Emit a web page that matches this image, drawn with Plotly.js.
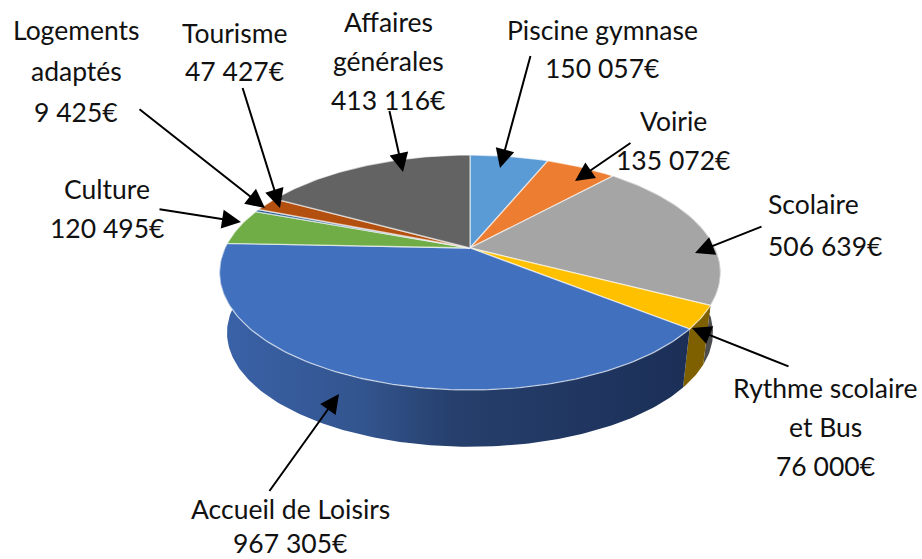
<!DOCTYPE html>
<html>
<head>
<meta charset="utf-8">
<script src="https://cdn.plot.ly/plotly-3.0.1.min.js"></script>
<style>html,body{margin:0;padding:0;background:#fff}#chart{width:922px;height:559px}</style>
</head>
<body>
<div id="chart"></div>
<script>
// ---- data ----
const categories = ["Piscine gymnase","Voirie","Scolaire","Rythme scolaire et Bus","Accueil de Loisirs","Culture","Logements adaptés","Tourisme","Affaires générales"];
const values = [150057,135072,506639,76000,967305,120495,9425,47427,413116];
const valueLabels = ["150 057€","135 072€","506 639€","76 000€","967 305€","120 495€","9 425€","47 427€","413 116€"];
const labelLines = [["Piscine gymnase"],["Voirie"],["Scolaire"],["Rythme scolaire","et Bus"],["Accueil de Loisirs"],["Culture"],["Logements","adaptés"],["Tourisme"],["Affaires","générales"]];

// ---- styles ----
const topColors = ["#5b9bd5","#ed7d31","#a5a5a5","#ffc000","#4070be","#70ad47","#255e91","#b4500f","#636363"];
const wallScales = [
  null,null,
  [[0,"#6a6a6a"],[1,"#4a4a4a"]],
  [[0,"#7f6000"],[1,"#7f6000"]],
  [[0,"#3a62a8"],[0.3,"#33558f"],[0.5,"#263f6c"],[1,"#1b2f57"]],
  null,null,null,null
];

// ---- placement of the pie's projection and of the labels (pixels) ----
const pie = {cx:470, cy:248, rx:245, ry:112.4, k:0.2085, wallScale:0.97, wallDrop:61};
const labelAnchor = [[602,30,38],[673,121,39],[766,204,42],[825,388,39],[290,509,34],[107,189,39],[76,30,41],[234,33,38],[388,22,39]];
const labelAlign = ["center","center","left","center","center","center","center","center","center"];
const arrowTail = [[531,54],[632,142],[763,226],[790,367],[268,493],[158,209],[138,108],[242,86],[389,109]];
const arrowHead = [[500,168],[575,181],[695,253],[692,328],[339,394],[241,222],[265,208],[280,208],[403,172]];

// ---- projection ----
const total = values.reduce((a,b)=>a+b,0);
function project(deg, lower){
  const t = deg*Math.PI/180, u = Math.sin(t), v = -Math.cos(t), d = 1-pie.k*v;
  const s = lower ? pie.wallScale : 1, dy = lower ? pie.wallDrop : 0;
  return [pie.cx + s*pie.rx*u/d, pie.cy + dy + s*pie.ry*v/d];
}
function arc(a0,a1,lower){
  const n = Math.max(2,Math.ceil(Math.abs(a1-a0))), pts=[];
  for(let i=0;i<=n;i++) pts.push(project(a0+(a1-a0)*i/n,lower));
  return pts;
}
let acc = 0;
const spans = values.map(v=>{const a0=acc; acc+=v/total*360; return [a0,acc];});

const traces = [];
// walls first
spans.forEach((sp,i)=>{
  if(!wallScales[i]) return;
  const pts = arc(sp[0],sp[1],false).concat(arc(sp[1],sp[0],true));
  pts.push(pts[0]);
  traces.push({x:pts.map(p=>p[0]),y:pts.map(p=>p[1]),mode:"lines",fill:"toself",
    fillgradient:{type:"horizontal",colorscale:wallScales[i]},
    line:{width:0},hoverinfo:"skip",showlegend:false});
});
// top faces
spans.forEach((sp,i)=>{
  const pts = [[pie.cx,pie.cy]].concat(arc(sp[0],sp[1],false));
  pts.push(pts[0]);
  traces.push({x:pts.map(p=>p[0]),y:pts.map(p=>p[1]),mode:"lines",fill:"toself",
    fillcolor:topColors[i],line:{color:"rgba(255,255,255,0.6)",width:1.3},
    name:categories[i],hoverinfo:"name",showlegend:false});
});

const annotations = [];
const font = {family:"Lato, 'Open Sans', sans-serif",size:26.5,color:"#111"};
categories.forEach((c,i)=>{
  const lines = labelLines[i].concat([valueLabels[i]]);
  lines.forEach((t,j)=>{
    annotations.push({x:labelAnchor[i][0],y:labelAnchor[i][1]+j*labelAnchor[i][2],xref:"x",yref:"y",
      text:t,showarrow:false,font:font,xanchor:labelAlign[i],yanchor:"middle"});
  });
  annotations.push({x:arrowHead[i][0],y:arrowHead[i][1],xref:"x",yref:"y",
    ax:arrowTail[i][0],ay:arrowTail[i][1],axref:"x",ayref:"y",text:" ",showarrow:true,
    arrowhead:2,arrowsize:1.9,arrowwidth:2,arrowcolor:"#000",standoff:0,font:{size:1}});
});

const layout = {
  width:922,height:559,margin:{l:0,r:0,t:0,b:0},
  paper_bgcolor:"#fff",plot_bgcolor:"#fff",showlegend:false,
  xaxis:{range:[0,922],visible:false,fixedrange:true},
  yaxis:{range:[559,0],visible:false,fixedrange:true},
  annotations:annotations
};
Plotly.newPlot("chart",traces,layout,{displayModeBar:false,staticPlot:true});
</script>
</body>
</html>
